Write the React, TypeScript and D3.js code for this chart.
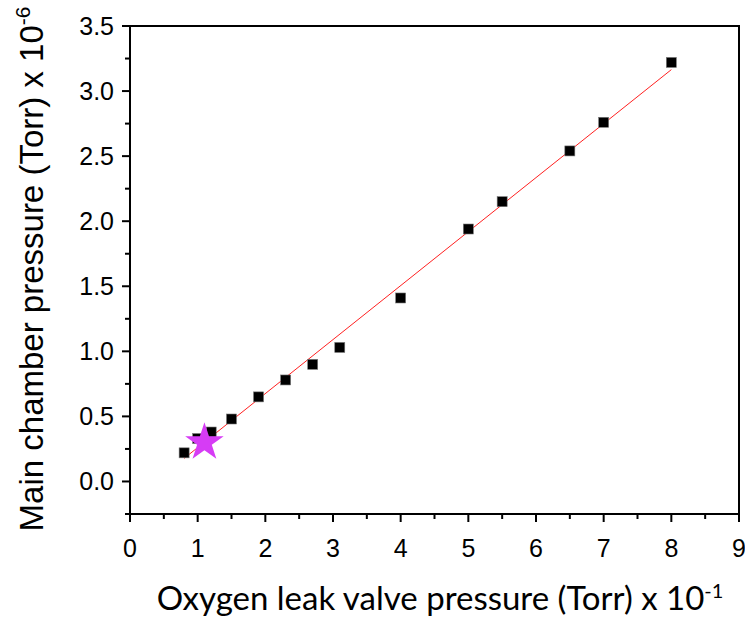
import React, { useEffect, useRef } from "react";
import * as d3 from "d3";

const leakPressure = [0.8, 1.0, 1.2, 1.5, 1.9, 2.3, 2.7, 3.1, 4.0, 5.0, 5.5, 6.5, 7.0, 8.0];
const chamberPressure = [0.22, 0.33, 0.38, 0.48, 0.65, 0.78, 0.90, 1.03, 1.41, 1.94, 2.15, 2.54, 2.76, 3.22];
const starPoint = [1.1, 0.30];
const xTicks = [0, 1, 2, 3, 4, 5, 6, 7, 8, 9];
const yTicks = [0.0, 0.5, 1.0, 1.5, 2.0, 2.5, 3.0, 3.5];

export default function App() {
  const ref = useRef<SVGSVGElement>(null);
  useEffect(() => {
    const svg = d3.select(ref.current);
    svg.selectAll("*").remove();
    const L = 130, R = 739, T = 26, B = 514;
    const x = d3.scaleLinear().domain([0, 9]).range([L, R]);
    const y = d3.scaleLinear().domain([-0.25, 3.5]).range([B, T]);
    const g = svg.append("g");
    const sans = "'Liberation Sans', Arial, sans-serif";

    // fit line (least squares)
    const n = leakPressure.length;
    const mx = d3.mean(leakPressure)!;
    const my = d3.mean(chamberPressure)!;
    let sxy = 0, sxx = 0;
    for (let i = 0; i < n; i++) {
      sxy += (leakPressure[i] - mx) * (chamberPressure[i] - my);
      sxx += (leakPressure[i] - mx) ** 2;
    }
    const slope = sxy / sxx;
    const icpt = my - slope * mx;
    const x0 = d3.min(leakPressure)!, x1 = d3.max(leakPressure)!;
    g.append("line")
      .attr("x1", x(x0)).attr("y1", y(icpt + slope * x0))
      .attr("x2", x(x1)).attr("y2", y(icpt + slope * x1))
      .attr("stroke", "#ff2020").attr("stroke-width", 1);

    // squares
    const s = 10;
    g.selectAll("rect.pt").data(leakPressure).enter().append("rect")
      .attr("x", (d) => x(d) - s / 2)
      .attr("y", (d, i) => y(chamberPressure[i]) - s / 2)
      .attr("width", s).attr("height", s)
      .attr("fill", "#000").attr("stroke", "#777").attr("stroke-width", 0.6);

    // star
    const star = d3.symbol().type(d3.symbolStar).size(460);
    g.append("path").attr("d", star()!)
      .attr("transform", `translate(${x(starPoint[0])},${y(starPoint[1])})`)
      .attr("fill", "#d63cf5");

    // frame
    g.append("rect").attr("x", L).attr("y", T).attr("width", R - L).attr("height", B - T)
      .attr("fill", "none").attr("stroke", "#000").attr("stroke-width", 2);

    // x ticks
    xTicks.forEach((t) => {
      g.append("line").attr("x1", x(t)).attr("x2", x(t)).attr("y1", B).attr("y2", B + 8)
        .attr("stroke", "#000").attr("stroke-width", 2);
      g.append("text").attr("x", x(t)).attr("y", B + 43).attr("text-anchor", "middle")
        .attr("font-family", sans).attr("font-size", 25).text(t);
      if (t < 9) {
        g.append("line").attr("x1", x(t + 0.5)).attr("x2", x(t + 0.5)).attr("y1", B).attr("y2", B + 5)
          .attr("stroke", "#000").attr("stroke-width", 2);
      }
    });
    // y ticks
    yTicks.forEach((t) => {
      g.append("line").attr("x1", L - 8).attr("x2", L).attr("y1", y(t)).attr("y2", y(t))
        .attr("stroke", "#000").attr("stroke-width", 2);
      g.append("text").attr("x", L - 16).attr("y", y(t) + 9).attr("text-anchor", "end")
        .attr("font-family", sans).attr("font-size", 25).text(t.toFixed(1));
      g.append("line").attr("x1", L - 5).attr("x2", L).attr("y1", y(t - 0.25)).attr("y2", y(t - 0.25))
        .attr("stroke", "#000").attr("stroke-width", 2);
    });

    // y label
    const yl = g.append("text")
      .attr("transform", `translate(43,269) rotate(-90)`)
      .attr("text-anchor", "middle")
      .attr("font-family", sans).attr("font-size", 33);
    yl.append("tspan").text("Main chamber pressure (Torr) x 10");
    yl.append("tspan").attr("dy", -13).attr("font-size", 21).text("-6");

    // x label
    const xl = g.append("text")
      .attr("x", 440).attr("y", 610).attr("text-anchor", "middle")
      .attr("font-family", "Lato, 'Open Sans', sans-serif").attr("font-size", 33);
    xl.append("tspan").text("Oxygen leak valve pressure (Torr) x 10");
    xl.append("tspan").attr("dy", -12).attr("font-size", 20).text("-1");
  }, []);
  return (
    <svg ref={ref} width={745} height={619} style={{ position: "absolute", left: 0, top: 0, background: "#fff" }} />
  );
}
